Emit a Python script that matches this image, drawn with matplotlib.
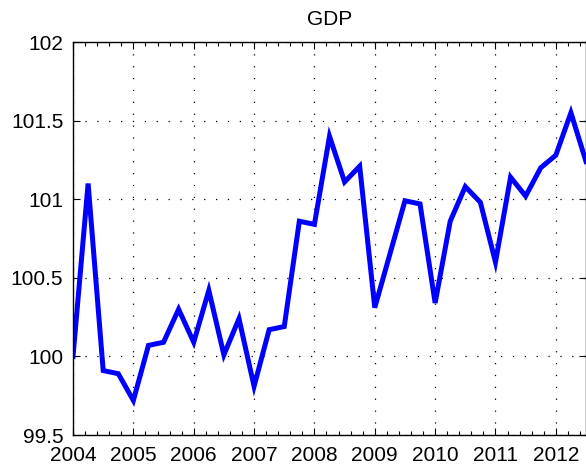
import numpy as np
import matplotlib.pyplot as plt
from matplotlib.ticker import MultipleLocator, FuncFormatter

plt.rcParams['font.family'] = ['Liberation Sans', 'DejaVu Sans']

# quarterly GDP index, 2004Q1 .. 2012Q3
start_year = 2004
gdp = [100.00, 101.10, 99.91, 99.89,
       99.72, 100.07, 100.09, 100.30,
       100.09, 100.42, 100.01, 100.24,
       99.81, 100.17, 100.19, 100.86,
       100.84, 101.40, 101.11, 101.21,
       100.31, 100.65, 100.99, 100.97,
       100.34, 100.86, 101.08, 100.98,
       100.60, 101.14, 101.02, 101.20,
       101.28, 101.55, 101.24]
t = start_year + np.arange(len(gdp)) / 4.0

fig = plt.figure(figsize=(5.86, 4.71), dpi=100)
ax = fig.add_axes([0.1246, 0.0764, 0.8754, 0.8344])

ax.plot(t, gdp, color=(0, 0, 1), lw=3.6, solid_joinstyle='miter')

ax.set_xlim(2004, 2012.5)
ax.set_ylim(99.5, 102)
ax.xaxis.set_major_locator(MultipleLocator(1))
ax.xaxis.set_minor_locator(MultipleLocator(0.2))
ax.yaxis.set_major_locator(MultipleLocator(0.5))
ax.yaxis.set_major_formatter(FuncFormatter(lambda v, p: '%g' % v))
ax.xaxis.set_major_formatter(FuncFormatter(lambda v, p: '%d' % v))

ax.tick_params(which='both', direction='in', top=True, right=True,
               labelsize=15, color='black')
ax.tick_params(which='major', length=5, width=0.8)
ax.tick_params(which='minor', length=3, width=0.8)
ax.tick_params(axis='x', which='major', pad=8)
ax.tick_params(axis='y', which='major', pad=7)

# sparse dotted grid, matlab style
ax.grid(True, which='major', color='black', linestyle=(0, (1, 8.5)), lw=0.9)

for s in ax.spines.values():
    s.set_linewidth(1.0)

ax.set_title('GDP', fontsize=15, pad=12)

fig.savefig('out.png', dpi=100)
